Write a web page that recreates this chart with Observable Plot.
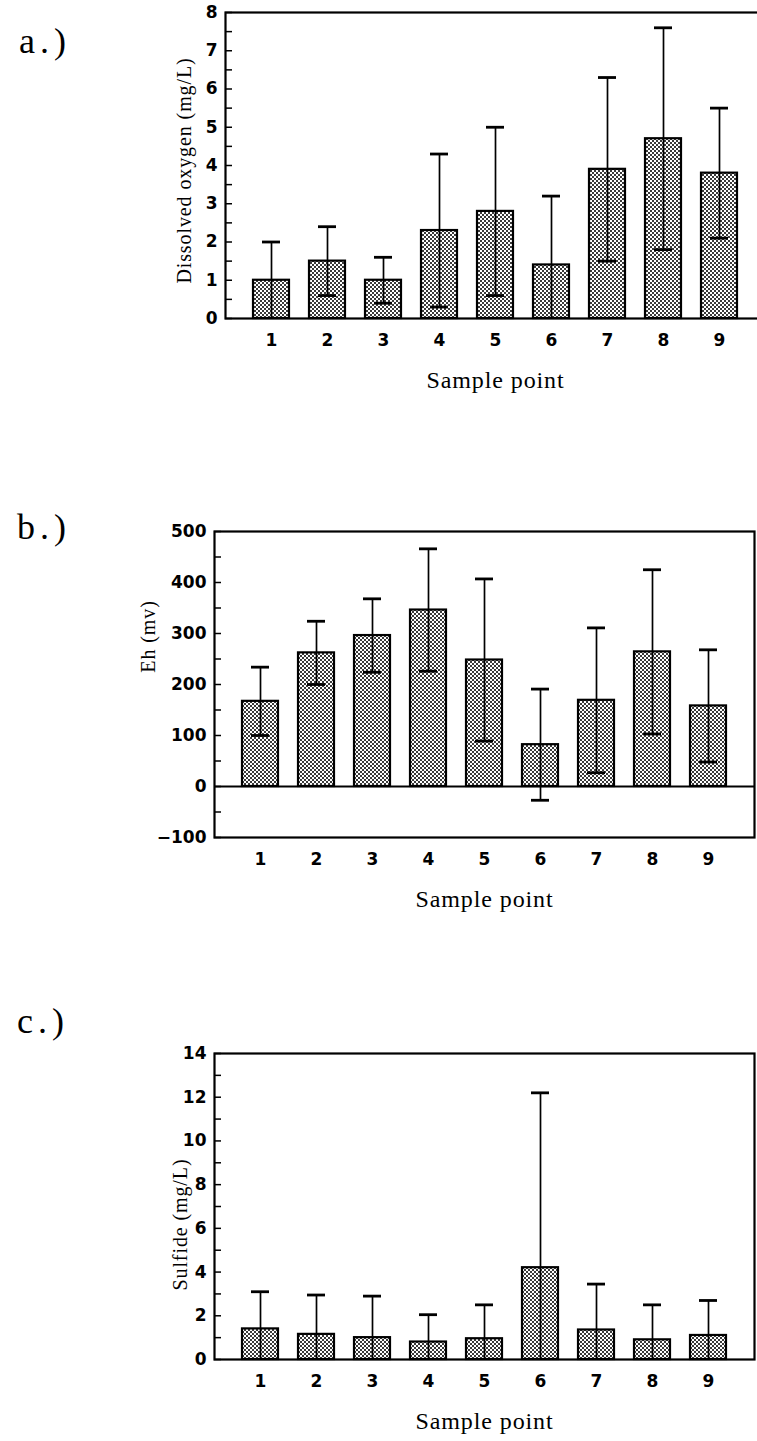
<!DOCTYPE html>
<html>
<head>
<meta charset="utf-8">
<script src="https://cdn.jsdelivr.net/npm/d3@7"></script>
<script src="https://cdn.jsdelivr.net/npm/@observablehq/plot@0.6"></script>
<style>
  html, body { margin: 0; padding: 0; background: #fff; overflow: hidden; width: 757px; height: 1441px; }
  .panel { position: absolute; left: 0; }
  .panel svg { max-width: none !important; display: block; }
  .tag { position: absolute; font-family: "Liberation Serif", serif; font-size: 36px; line-height: 1; color: #000; letter-spacing: 5px; }
  g[aria-label="text"] text { letter-spacing: 0.9px; }
</style>
</head>
<body>
<svg width="0" height="0" style="position:absolute">
  <defs>
    <pattern id="stipple" width="4" height="4" patternUnits="userSpaceOnUse">
      <rect width="4" height="4" fill="#ffffff"/>
      <rect x="0" y="0" width="2" height="2" fill="#3a3a3a"/>
      <rect x="2" y="2" width="2" height="2" fill="#3a3a3a"/>
    </pattern>
  </defs>
</svg>
<div class="tag" style="left:19px; top:23px;">a.)</div>
<div class="tag" style="left:17px; top:509px;">b.)</div>
<div class="tag" style="left:17px; top:1003px;">c.)</div>
<div id="pa" class="panel" style="top:0px"></div>
<div id="pb" class="panel" style="top:519px"></div>
<div id="pc" class="panel" style="top:1041px"></div>
<script>
// ---- data ----
const samplePoints = [1, 2, 3, 4, 5, 6, 7, 8, 9];

const oxygenMean = [1.0, 1.5, 1.0, 2.3, 2.8, 1.4, 3.9, 4.7, 3.8];
const oxygenSD   = [1.0, 0.9, 0.6, 2.0, 2.2, 1.8, 2.4, 2.9, 1.7];

const ehMean = [167, 262, 296, 346, 248, 82, 169, 264, 158];
const ehSD   = [67, 62, 72, 120, 159, 109, 142, 161, 110];

const sulfideMean = [1.4, 1.15, 1.0, 0.8, 0.95, 4.2, 1.35, 0.9, 1.1];
const sulfideSD   = [1.7, 1.8, 1.9, 1.25, 1.55, 8.0, 2.1, 1.6, 1.6];

const oxygenTicks = [0, 1, 2, 3, 4, 5, 6, 7, 8];
const ehTicks = [-100, 0, 100, 200, 300, 400, 500];
const sulfideTicks = [0, 2, 4, 6, 8, 10, 12, 14];

const xLabel = "Sample point";

function panel({means, sds, domain, ticks, minorStep, yLabel, labelDx, labelDy, marginLeft, marginRight, zeroLine}) {
  const plotW = 540, plotH = 306, marginTop = 12, marginBottom = 85;
  const data = samplePoints.map((p, i) => {
    const lo = means[i] - sds[i];
    return {p, mean: means[i], hi: means[i] + sds[i], lo: Math.max(domain[0], lo), clamped: lo <= domain[0]};
  });
  const minor = d3.range(domain[0], domain[1] + minorStep / 2, minorStep);
  const tickFont = {fontFamily: "'DejaVu Sans', 'Liberation Sans', sans-serif", fontWeight: "bold", fontSize: 17};
  const titleFont = {fontFamily: "'Liberation Serif', 'Times New Roman', serif", fill: "black"};
  const svg = Plot.plot({
    width: marginLeft + plotW + marginRight,
    height: marginTop + plotH + marginBottom,
    marginTop, marginBottom, marginLeft, marginRight,
    style: {background: "transparent", overflow: "visible", color: "black"},
    x: {type: "band", domain: samplePoints, paddingInner: 0.35, paddingOuter: 0.43, axis: null},
    y: {domain, axis: null},
    marks: [
      Plot.barY(data, {x: "p", y: "mean", fill: "url(#stipple)", stroke: "black", strokeWidth: 2.2}),
      zeroLine ? Plot.ruleY([0], {stroke: "black", strokeWidth: 2}) : null,
      Plot.ruleX(data, {x: "p", y1: "lo", y2: "hi", stroke: "black", strokeWidth: 1.7}),
      Plot.tickY(data, {x: "p", y: "hi", stroke: "black", strokeWidth: 2.8, insetLeft: 9, insetRight: 9}),
      Plot.tickY(data.filter(d => !d.clamped), {x: "p", y: "lo", stroke: "black", strokeWidth: 2.8, insetLeft: 9, insetRight: 9}),
      Plot.tickY(minor, {y: d => d, stroke: "black", strokeWidth: 1.5, insetRight: plotW - 7}),
      Plot.axisY({ticks, tickSize: 0, tickPadding: 8, label: null, ...tickFont}),
      Plot.axisX({tickSize: 0, tickPadding: 15, label: null, ...tickFont}),
      Plot.text([yLabel], {text: d => d, frameAnchor: "left", rotate: -90, dx: labelDx, dy: labelDy, textAnchor: "middle", fontSize: 20, ...titleFont}),
      Plot.text([xLabel], {text: d => d, frameAnchor: "bottom", dy: 69, fontSize: 24, ...titleFont}),
      Plot.frame({stroke: "black", strokeWidth: 2.2})
    ]
  });
  svg.style.maxWidth = "none";
  return svg;
}

document.getElementById("pa").append(panel({
  means: oxygenMean, sds: oxygenSD, domain: [0, 8], ticks: oxygenTicks, minorStep: 0.5,
  yLabel: "Dissolved oxygen (mg/L)", labelDx: -41, labelDy: 5, marginLeft: 225, marginRight: 10, zeroLine: false
}));
document.getElementById("pb").append(panel({
  means: ehMean, sds: ehSD, domain: [-100, 500], ticks: ehTicks, minorStep: 50,
  yLabel: "Eh (mv)", labelDx: -66, labelDy: -48, marginLeft: 214, marginRight: 3, zeroLine: true
}));
document.getElementById("pc").append(panel({
  means: sulfideMean, sds: sulfideSD, domain: [0, 14], ticks: sulfideTicks, minorStep: 1,
  yLabel: "Sulfide (mg/L)", labelDx: -34, labelDy: 18, marginLeft: 214, marginRight: 3, zeroLine: false
}));
</script>
</body>
</html>
